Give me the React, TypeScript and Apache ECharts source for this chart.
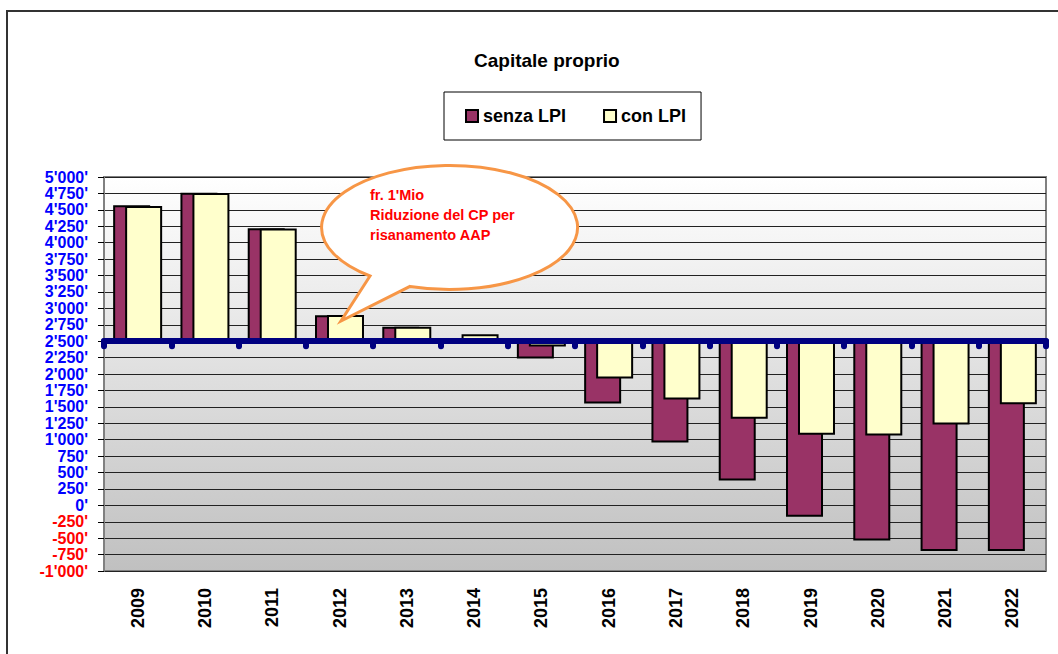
import React, { useEffect, useRef } from "react";
import * as echarts from "echarts";

const years = ["2009", "2010", "2011", "2012", "2013", "2014", "2015", "2016", "2017", "2018", "2019", "2020", "2021", "2022"];
const senzaLPI = [4570, 4760, 4220, 2895, 2720, 2530, 2235, 1550, 955, 380, -175, -535, -695, -695];
const conLPI = [4560, 4755, 4215, 2900, 2720, 2605, 2420, 1930, 1610, 1320, 1075, 1065, 1230, 1540];
const BASE = 2500; // horizontal axis crosses the value axis here
const yMin = -1000;
const yMax = 5000;
const yStep = 250;
const calloutLines = ["fr. 1'Mio", "Riduzione del CP per", "risanamento AAP"];

const FONT = "'Liberation Sans', Arial, Helvetica, sans-serif";

function fmt(v: number): string {
  const s = Math.abs(Math.round(v)).toString().replace(/\B(?=(\d{3})+(?!\d))/g, "'");
  return (v < 0 ? "-" : "") + s + "'";
}

let registered = false;

export default function App() {
  const ref = useRef<HTMLDivElement>(null);
  useEffect(() => {
    if (!ref.current) return;
    if (!registered) {
      echarts.graphic.registerShape(
        "bubble",
        echarts.graphic.extendPath("M370 276 L341 321 L410 286.4 A128 62 0 1 0 370 276 Z", {}) as any
      );
      registered = true;
    }
    const chart = echarts.init(ref.current, null, { renderer: "svg" });
    chart.setOption({
      animation: false,
      backgroundColor: "#ffffff",
      title: {
        text: "Capitale proprio",
        left: 474,
        top: 51,
        padding: 0,
        textStyle: { fontFamily: FONT, fontSize: 19, fontWeight: "bold", color: "#000" },
      },
      legend: {
        left: 444,
        top: 92,
        padding: [15, 15, 15, 21],
        borderColor: "#000",
        borderWidth: 1,
        itemGap: 37,
        itemWidth: 12,
        itemHeight: 12,
        icon: "rect",
        textStyle: { fontFamily: FONT, fontSize: 18, fontWeight: "bold", color: "#000" },
        data: ["senza LPI", "con LPI"],
      },
      grid: {
        left: 104,
        top: 177,
        width: 942,
        height: 394,
        show: true,
        borderColor: "#808080",
        borderWidth: 2,
        backgroundColor: new echarts.graphic.LinearGradient(0, 0, 0, 1, [
          { offset: 0, color: "#ffffff" },
          { offset: 1, color: "#c0c0c0" },
        ]),
      },
      xAxis: [
        {
          type: "category",
          data: years,
          position: "bottom",
          z: 10,
          axisLine: { show: true, onZero: true, lineStyle: { color: "#000080", width: 6, cap: "round" } },
          axisTick: { show: true, length: 5, lineStyle: { color: "#000080", width: 6, cap: "round" } },
          axisLabel: { show: false },
          splitLine: { show: false },
        },
        {
          type: "category",
          data: years,
          position: "bottom",
          axisLine: { show: false, onZero: false },
          axisTick: { show: false },
          axisLabel: {
            rotate: 90,
            margin: 17,
            fontFamily: FONT,
            fontSize: 18,
            fontWeight: "bold",
            color: "#000",
          },
          splitLine: { show: false },
        },
      ],
      yAxis: {
        type: "value",
        min: yMin - BASE,
        max: yMax - BASE,
        interval: yStep,
        axisLine: { show: true, lineStyle: { color: "#808080", width: 2 } },
        axisTick: { show: true, length: 6, lineStyle: { color: "#000", width: 1 } },
        splitLine: { show: true, lineStyle: { color: "#222", width: 1 } },
        axisLabel: {
          margin: 16,
          showMinLabel: true,
          showMaxLabel: true,
          hideOverlap: false,
          fontFamily: FONT,
          fontSize: 16,
          lineHeight: 15,
          fontWeight: "bold",
          formatter: (v: number) => fmt(v + BASE),
          color: (v: any) => (Number(v) + BASE < 0 ? "#ff0000" : "#0000ff"),
        },
      },
      series: [
        {
          name: "senza LPI",
          type: "bar",
          xAxisIndex: 0,
          data: senzaLPI.map((v) => v - BASE),
          barWidth: 37,
          barGap: "-67.6%",
          itemStyle: { color: "#993366", borderColor: "#000", borderWidth: 2 },
        },
        {
          name: "con LPI",
          type: "bar",
          xAxisIndex: 0,
          data: conLPI.map((v) => v - BASE),
          barWidth: 37,
          barGap: "-67.6%",
          itemStyle: { color: "#ffffcc", borderColor: "#000", borderWidth: 2 },
        },
      ],
      graphic: [
        {
          type: "rect",
          z: 100,
          silent: true,
          shape: { x: 7, y: 11, width: 1080, height: 700 },
          style: { fill: "none", stroke: "#333", lineWidth: 2 },
        },
        {
          type: "bubble",
          z: 100,
          x: 0,
          y: 0,
          scaleX: 1,
          scaleY: 1,
          style: { fill: "#ffffff", stroke: "#f79646", lineWidth: 3 },
        },
        ...calloutLines.map((t, i) => ({
          type: "text",
          z: 101,
          x: 370,
          y: 195 + i * 20,
          style: {
            text: t,
            fill: "#ff0000",
            font: `bold 14.5px ${FONT}`,
            verticalAlign: "middle",
          },
        })),
      ],
    });
    return () => chart.dispose();
  }, []);
  return (
    <div
      ref={ref}
      style={{ position: "absolute", left: 0, top: 0, width: 1058, height: 654, background: "#fff" }}
    />
  );
}
